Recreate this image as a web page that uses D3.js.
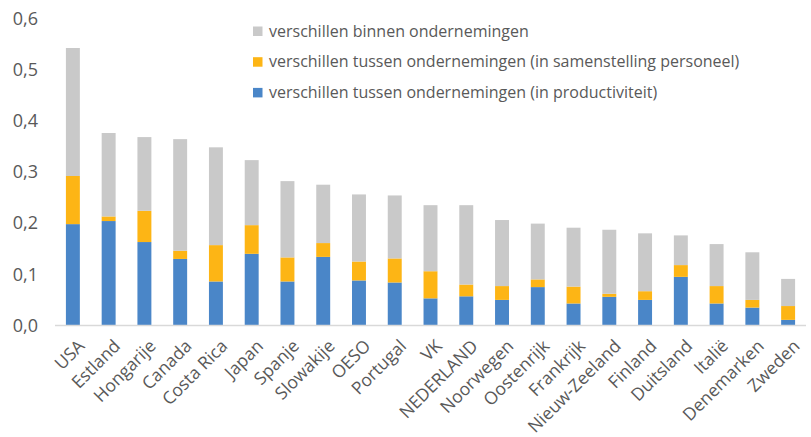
<!DOCTYPE html>
<html>
<head>
<meta charset="utf-8">
<script src="https://cdn.jsdelivr.net/npm/d3@7"></script>
<style>
  body { margin: 0; background: #fff; }
  text { font-family: "Open Sans", sans-serif; fill: #595959; }
</style>
</head>
<body>
<div class="box"></div>
<script>
const landen = ["USA", "Estland", "Hongarije", "Canada", "Costa Rica", "Japan", "Spanje", "Slowakije", "OESO", "Portugal", "VK", "NEDERLAND", "Noorwegen", "Oostenrijk", "Frankrijk", "Nieuw-Zeeland", "Finland", "Duitsland", "Italië", "Denemarken", "Zweden"];

const productiviteit = [0.198, 0.204, 0.163, 0.130, 0.086, 0.140, 0.086, 0.134, 0.088, 0.084, 0.053, 0.057, 0.050, 0.075, 0.043, 0.056, 0.050, 0.095, 0.043, 0.035, 0.011];
const personeel = [0.094, 0.009, 0.061, 0.016, 0.071, 0.056, 0.047, 0.027, 0.037, 0.047, 0.053, 0.023, 0.027, 0.015, 0.033, 0.006, 0.017, 0.023, 0.034, 0.015, 0.027];
const binnen = [0.250, 0.163, 0.144, 0.218, 0.191, 0.127, 0.149, 0.114, 0.131, 0.123, 0.129, 0.155, 0.129, 0.109, 0.115, 0.125, 0.113, 0.058, 0.082, 0.093, 0.053];

const yTicks = [0, 0.1, 0.2, 0.3, 0.4, 0.5, 0.6];

const reeksen = [
  {key: "prod", label: "verschillen tussen ondernemingen (in productiviteit)", color: "#4a86c8"},
  {key: "pers", label: "verschillen tussen ondernemingen (in samenstelling personeel)", color: "#fdb515"},
  {key: "binnen", label: "verschillen binnen ondernemingen", color: "#c9c9c9"}
];

const dims = {width: 811, height: 437};

const svg = d3.select('.box')
              .append('svg')
              .attr('width', dims.width)
              .attr('height', dims.height);

const donnee = landen.map((l, i) => ({land: l, prod: productiviteit[i], pers: personeel[i], binnen: binnen[i]}));

const x = d3.scaleBand()
            .domain(landen)
            .range([55, 806])
            .paddingInner(0.61)
            .paddingOuter(0.305);

const y = d3.scaleLinear()
            .domain([0, 0.6])
            .range([325.5, 18.3]);

const stack = d3.stack().keys(reeksen.map(r => r.key));
const lagen = stack(donnee);

svg.append('g')
   .selectAll('g')
   .data(lagen)
   .join('g')
   .attr('fill', (d, i) => reeksen[i].color)
   .selectAll('rect')
   .data(d => d)
   .join('rect')
   .attr('x', d => x(d.data.land))
   .attr('width', x.bandwidth())
   .attr('y', d => y(d[1]))
   .attr('height', d => y(d[0]) - y(d[1]));

// y-as
const nl = d3.formatLocale({decimal: ",", thousands: ".", grouping: [3], currency: ["€", ""]});
const yAxis = d3.axisLeft(y)
                .tickValues(yTicks)
                .tickFormat(nl.format(".1f"))
                .tickSize(0)
                .tickPadding(17);

const gy = svg.append('g')
              .attr('transform', 'translate(55,0)')
              .call(yAxis);
gy.select('.domain').remove();
gy.selectAll('text')
  .attr('font-size', 18)
  .attr('font-family', '"Open Sans", sans-serif')
  .attr('fill', '#595959');

// x-as
svg.append('line')
   .attr('x1', 55).attr('x2', 806)
   .attr('y1', y(0)).attr('y2', y(0))
   .attr('stroke', '#d9d9d9')
   .attr('stroke-width', 1.5);

svg.append('g')
   .selectAll('text')
   .data(landen)
   .join('text')
   .attr('transform', d => `translate(${x(d) + x.bandwidth() / 2 + 4}, ${y(0) + 13}) rotate(-45)`)
   .attr('text-anchor', 'end')
   .attr('dy', '0.7em')
   .attr('font-size', 17.5)
   .text(d => d);

// legenda
const legende = svg.append('g')
                   .selectAll('g')
                   .data(reeksen.slice().reverse())
                   .join('g')
                   .attr('transform', (d, i) => `translate(253, ${31 + i * 30.7})`);

legende.append('rect')
       .attr('x', 0).attr('y', -4.5)
       .attr('width', 9.5).attr('height', 9.5)
       .attr('fill', d => d.color);

legende.append('text')
       .attr('x', 16)
       .attr('dy', '0.35em')
       .attr('font-size', 16)
       .text(d => d.label);
</script>
</body>
</html>
